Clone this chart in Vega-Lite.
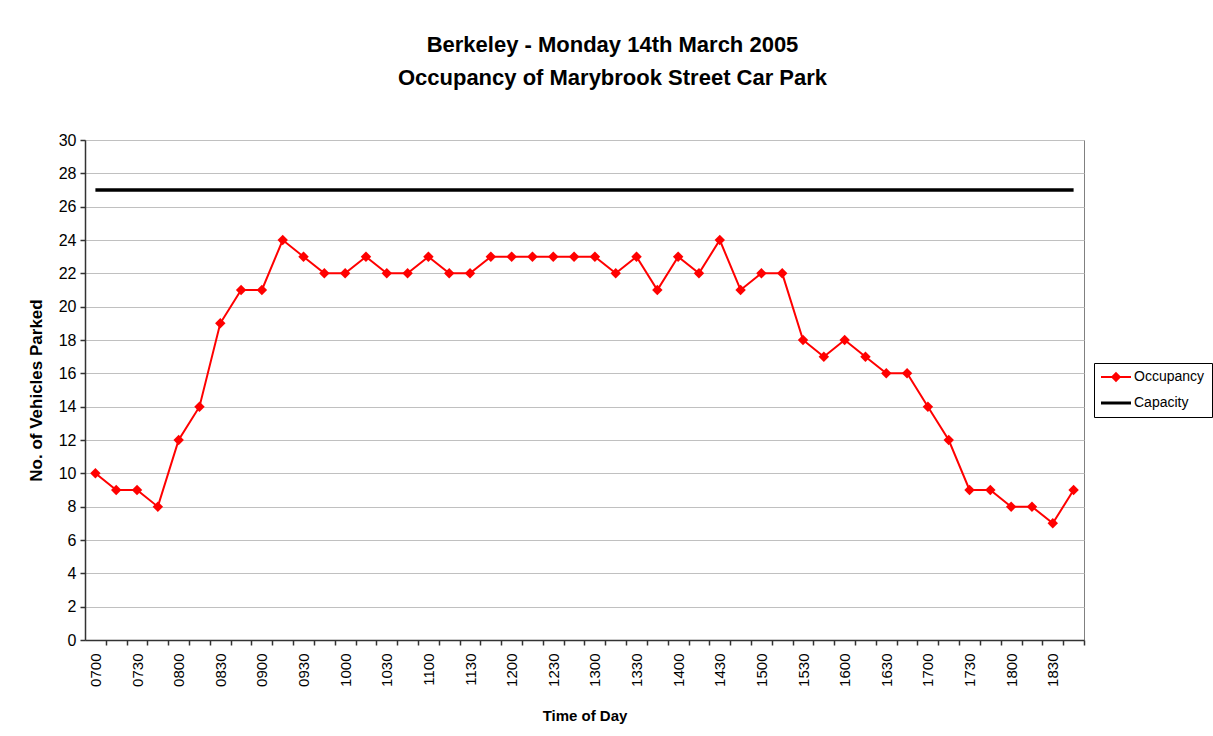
{
  "$schema": "https://vega.github.io/schema/vega-lite/v6.json",
  "width": 999,
  "height": 500,
  "autosize": {"type": "none"},
  "padding": {"left": 85, "top": 140, "right": 129, "bottom": 96},
  "background": "white",
  "title": {
    "text": ["Berkeley - Monday 14th March 2005", "Occupancy of Marybrook Street Car Park"],
    "font": "Liberation Sans",
    "fontSize": 22,
    "fontWeight": "bold",
    "color": "black",
    "lineHeight": 33,
    "anchor": "middle",
    "dx": 28,
    "offset": 42
  },
  "config": {
    "view": {"stroke": "#808080", "strokeWidth": 1},
    "axis": {
      "labelFont": "Liberation Sans",
      "titleFont": "Liberation Sans",
      "labelColor": "black",
      "titleColor": "black",
      "domainColor": "#333333",
      "domainWidth": 1.5,
      "tickColor": "#333333",
      "tickWidth": 1.5,
      "tickSize": 5
    }
  },
  "data": {
    "values": [
      {"time": "0700", "occupancy": 10, "capacity": 27},
      {"time": "0715", "occupancy": 9, "capacity": 27},
      {"time": "0730", "occupancy": 9, "capacity": 27},
      {"time": "0745", "occupancy": 8, "capacity": 27},
      {"time": "0800", "occupancy": 12, "capacity": 27},
      {"time": "0815", "occupancy": 14, "capacity": 27},
      {"time": "0830", "occupancy": 19, "capacity": 27},
      {"time": "0845", "occupancy": 21, "capacity": 27},
      {"time": "0900", "occupancy": 21, "capacity": 27},
      {"time": "0915", "occupancy": 24, "capacity": 27},
      {"time": "0930", "occupancy": 23, "capacity": 27},
      {"time": "0945", "occupancy": 22, "capacity": 27},
      {"time": "1000", "occupancy": 22, "capacity": 27},
      {"time": "1015", "occupancy": 23, "capacity": 27},
      {"time": "1030", "occupancy": 22, "capacity": 27},
      {"time": "1045", "occupancy": 22, "capacity": 27},
      {"time": "1100", "occupancy": 23, "capacity": 27},
      {"time": "1115", "occupancy": 22, "capacity": 27},
      {"time": "1130", "occupancy": 22, "capacity": 27},
      {"time": "1145", "occupancy": 23, "capacity": 27},
      {"time": "1200", "occupancy": 23, "capacity": 27},
      {"time": "1215", "occupancy": 23, "capacity": 27},
      {"time": "1230", "occupancy": 23, "capacity": 27},
      {"time": "1245", "occupancy": 23, "capacity": 27},
      {"time": "1300", "occupancy": 23, "capacity": 27},
      {"time": "1315", "occupancy": 22, "capacity": 27},
      {"time": "1330", "occupancy": 23, "capacity": 27},
      {"time": "1345", "occupancy": 21, "capacity": 27},
      {"time": "1400", "occupancy": 23, "capacity": 27},
      {"time": "1415", "occupancy": 22, "capacity": 27},
      {"time": "1430", "occupancy": 24, "capacity": 27},
      {"time": "1445", "occupancy": 21, "capacity": 27},
      {"time": "1500", "occupancy": 22, "capacity": 27},
      {"time": "1515", "occupancy": 22, "capacity": 27},
      {"time": "1530", "occupancy": 18, "capacity": 27},
      {"time": "1545", "occupancy": 17, "capacity": 27},
      {"time": "1600", "occupancy": 18, "capacity": 27},
      {"time": "1615", "occupancy": 17, "capacity": 27},
      {"time": "1630", "occupancy": 16, "capacity": 27},
      {"time": "1645", "occupancy": 16, "capacity": 27},
      {"time": "1700", "occupancy": 14, "capacity": 27},
      {"time": "1715", "occupancy": 12, "capacity": 27},
      {"time": "1730", "occupancy": 9, "capacity": 27},
      {"time": "1745", "occupancy": 9, "capacity": 27},
      {"time": "1800", "occupancy": 8, "capacity": 27},
      {"time": "1815", "occupancy": 8, "capacity": 27},
      {"time": "1830", "occupancy": 7, "capacity": 27},
      {"time": "1845", "occupancy": 9, "capacity": 27}
    ]
  },
  "encoding": {
    "x": {
      "field": "time",
      "type": "ordinal",
      "sort": null,
      "axis": {
        "title": "Time of Day",
        "titleFontSize": 15,
        "titleFontWeight": "bold",
        "titlePadding": 22,
        "labelAngle": -90,
        "labelAlign": "right",
        "labelBaseline": "middle",
        "labelFontSize": 15,
        "labelPadding": 8,
        "labelOverlap": false,
        "tickOffset": 10.4,
        "labelOffset": -10.4,
        "grid": false,
        "labelExpr": "(slice(datum.value, 2) == '00' || slice(datum.value, 2) == '30') ? datum.value : ''"
      }
    }
  },
  "layer": [
    {
      "mark": {"type": "line", "strokeWidth": 3.5},
      "encoding": {
        "y": {
          "field": "capacity",
          "type": "quantitative",
          "scale": {"domain": [0, 30]},
          "axis": {
            "title": "No. of Vehicles Parked",
            "titleFontSize": 17,
            "titleFontWeight": "bold",
            "titlePadding": 13,
            "labelFontSize": 16,
            "labelPadding": 4,
            "labelOverlap": false,
            "values": [0, 2, 4, 6, 8, 10, 12, 14, 16, 18, 20, 22, 24, 26, 28, 30],
            "gridColor": "#c0c0c0",
            "gridWidth": 1.2
          }
        },
        "color": {
          "datum": "Capacity",
          "type": "nominal",
          "scale": {"domain": ["Occupancy", "Capacity"], "range": ["#FF0000", "#000000"]},
          "legend": {
            "title": null,
            "orient": "none",
            "legendX": 1009,
            "legendY": 223,
            "labelFontSize": 14,
            "labelFont": "Liberation Sans",
            "labelColor": "black",
            "symbolType": "stroke",
            "symbolSize": 900,
            "symbolStrokeWidth": 3,
            "symbolOffset": 8,
            "strokeColor": "black",
            "padding": 7,
            "rowPadding": 11,
            "labelOffset": 11,
            "encode": {
              "symbols": {
                "update": {
                  "shape": {"signal": "datum.value === 'Occupancy' ? 'M-1,0L1,0M0,-0.25L0.25,0L0,0.25L-0.25,0Z' : 'stroke'"},
                  "fill": {"signal": "datum.value === 'Occupancy' ? '#FF0000' : '#000000'"},
                  "strokeWidth": {"signal": "datum.value === 'Occupancy' ? 2 : 3"}
                }
              }
            }
          }
        }
      }
    },
    {
      "mark": {"type": "line", "strokeWidth": 2, "point": {"shape": "diamond", "size": 110, "filled": true}},
      "encoding": {
        "y": {
          "field": "occupancy",
          "type": "quantitative",
          "scale": {"domain": [0, 30]},
          "axis": {
            "title": "No. of Vehicles Parked",
            "titleFontSize": 17,
            "titleFontWeight": "bold",
            "titlePadding": 13,
            "labelFontSize": 16,
            "labelPadding": 4,
            "labelOverlap": false,
            "values": [0, 2, 4, 6, 8, 10, 12, 14, 16, 18, 20, 22, 24, 26, 28, 30],
            "gridColor": "#c0c0c0",
            "gridWidth": 1.2
          }
        },
        "color": {"datum": "Occupancy", "type": "nominal"}
      }
    }
  ]
}
